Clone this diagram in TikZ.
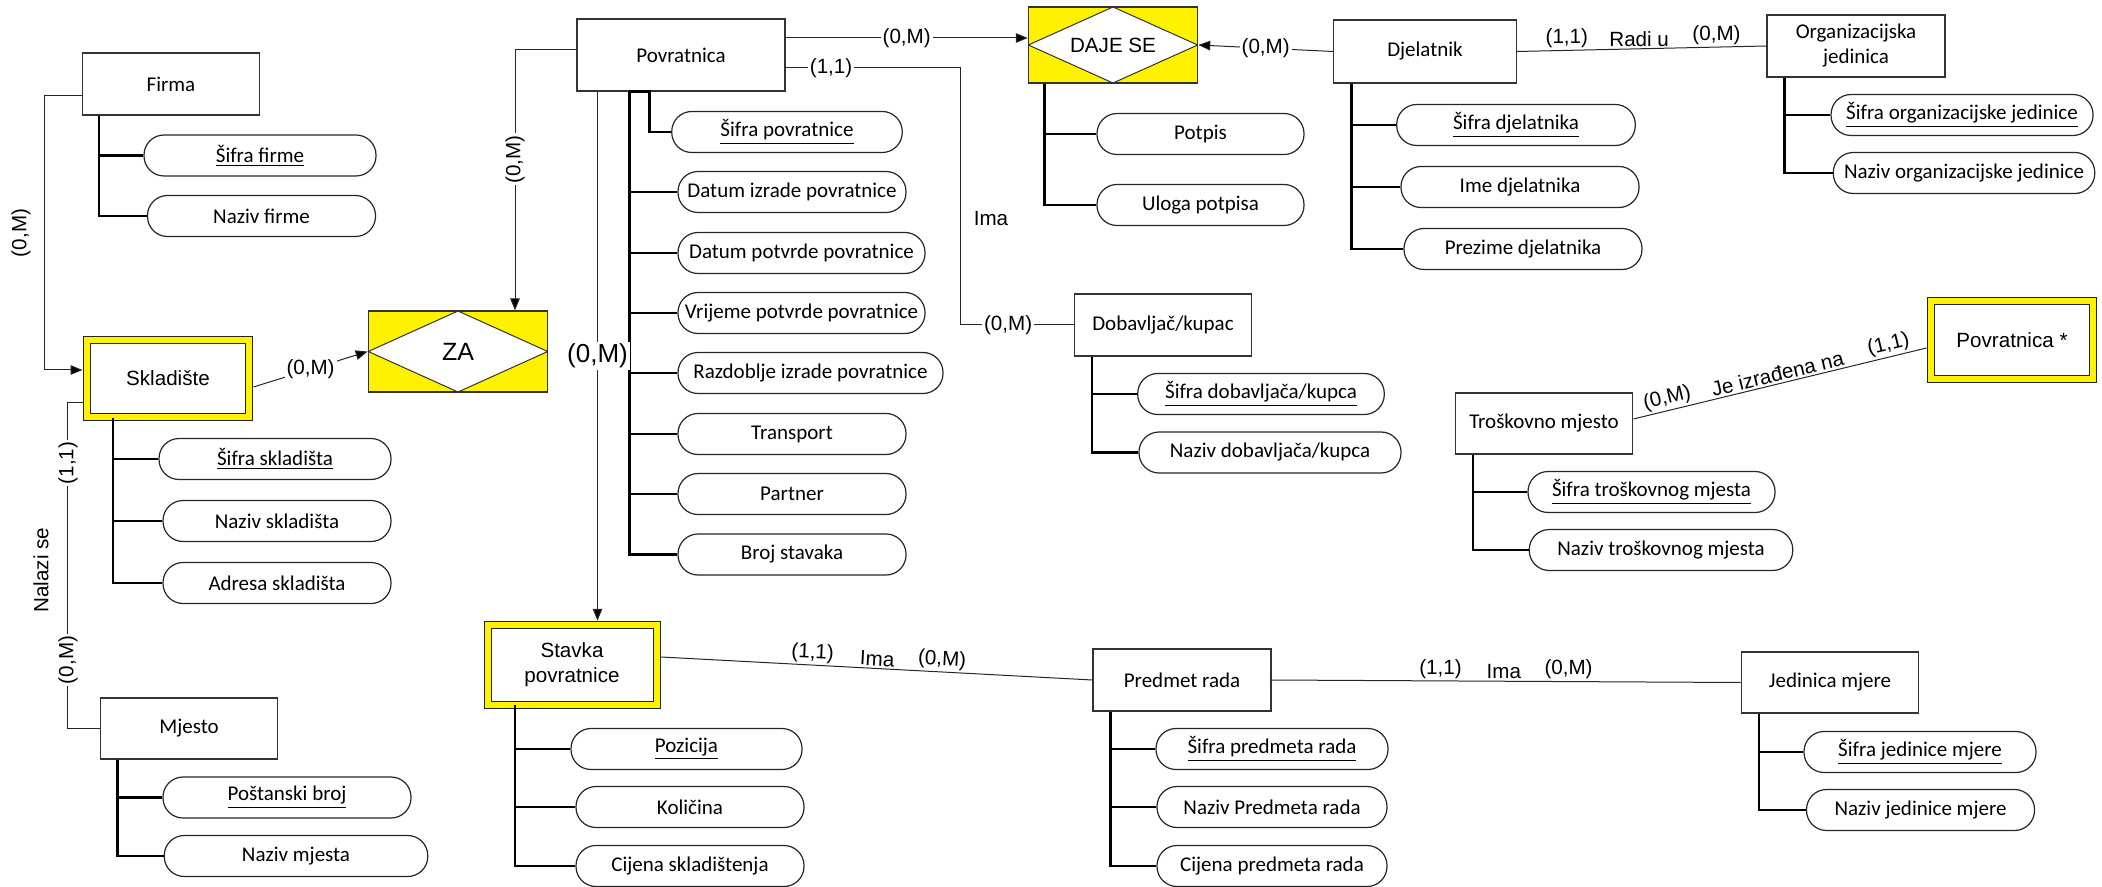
\documentclass[tikz,border=0pt]{standalone}
\usepackage{fontspec}
\setmainfont{Carlito}
\newfontfamily\arialf{Liberation Sans}
\usetikzlibrary{arrows.meta}

\tikzset{
  entity/.style={draw=black!80, line width=0.6pt, fill=white, minimum width=88.75pt,
    minimum height=31pt, inner sep=1pt, align=center, font=\fontsize{10.5}{12.5}\selectfont},
  weak/.style={draw=black!85, line width=0.5pt, double=yellow, double distance=3pt, fill=white,
    minimum width=81pt, minimum height=38.5pt, inner sep=1pt, align=center,
    font=\arialf\fontsize{10.3}{12.5}\selectfont},
  relbox/.style={draw=black!80, line width=0.6pt, fill=yellow, inner sep=0pt,
    font=\arialf\fontsize{10.3}{12}\selectfont,
    path picture={\draw[black!80, line width=0.5pt, fill=white]
      (path picture bounding box.west) -- (path picture bounding box.north) --
      (path picture bounding box.east) -- (path picture bounding box.south) -- cycle;}},
  attr/.style={draw=black!85, line width=0.6pt, fill=white, rounded corners=10pt,
    minimum width=114pt, minimum height=20.5pt, inner sep=1pt, font=\fontsize{10.5}{12.5}\selectfont},
  trunk/.style={line width=1.3pt, black},
  link/.style={line width=0.5pt, black!85},
  tip/.style={-{Triangle[length=6pt, width=4.8pt, fill=black]}},
  card/.style={inner sep=1pt, text=black, font=\arialf\fontsize{10.3}{12}\selectfont},
}

\begin{document}
\begin{tikzpicture}[x=0.5pt, y=-0.5pt]
  \useasboundingbox (0,0) rectangle (2102,887);
  % entities
  \node[entity] (firma) at (171,84) {Firma};
  \node[weak] (skl) at (168,378.5) {Skladište};
  \node[entity, minimum height=30.5pt] (mjesto) at (189,728.5) {Mjesto};
  \node[entity, minimum width=104pt, minimum height=36pt] (pov) at (681,55) {Povratnica};
  \node[weak, minimum width=84.5pt, minimum height=39.75pt] (stavka) at (572,665) {Stavka\\povratnice};
  \node[entity, minimum width=91.3pt, minimum height=31.5pt] (djel) at (1425,51.5) {Djelatnik};
  \node[entity, minimum width=89pt] (org) at (1856,46) {Organizacijska\\jedinica};
  \node[entity] (dob) at (1163,325) {Dobavljač/kupac};
  \node[entity, minimum height=30.5pt] (trosk) at (1544,423.5) {Troškovno mjesto};
  \node[entity, minimum width=89pt] (pred) at (1182,680) {Predmet rada};
  \node[entity, minimum height=30.5pt] (jed) at (1830,682.5) {Jedinica mjere};
  \node[weak, minimum height=38.75pt] (pov2) at (2012,340) {Povratnica *};
  % relationships
  \node[relbox, minimum width=84.65pt, minimum height=38pt] (dajese) at (1113,45) {DAJE SE};
  \node[relbox, minimum width=89.75pt, minimum height=40.5pt, font=\arialf\fontsize{12.5}{14}\selectfont] (za) at (458,351.5) {ZA};

  % attributes
  \node[attr, minimum width=116pt] (fir1) at (260,155.5) {\underline{Šifra firme}};
  \node[attr] (fir2) at (261.5,216) {Naziv firme};
  \node[attr, minimum width=116pt] (skl1) at (275,459) {\underline{Šifra skladišta}};
  \node[attr] (skl2) at (277,521) {Naziv skladišta};
  \node[attr] (skl3) at (277,583) {Adresa skladišta};
  \node[attr, minimum width=124pt] (mj1) at (287,797.5) {\underline{Poštanski broj}};
  \node[attr, minimum width=131.75pt] (mj2) at (296,856) {Naziv mjesta};
  \node[attr, minimum width=115.25pt] (pv1) at (787,132) {\underline{Šifra povratnice}};
  \node[attr] (pv2) at (792,192) {Datum izrade povratnice};
  \node[attr, minimum width=123.5pt] (pv3) at (801.5,253) {Datum potvrde povratnice};
  \node[attr, minimum width=123.5pt] (pv4) at (801.5,313) {Vrijeme potvrde povratnice};
  \node[attr, minimum width=132.5pt] (pv5) at (810.5,373) {Razdoblje izrade povratnice};
  \node[attr] (pv6) at (792,434) {Transport};
  \node[attr] (pv7) at (792,494) {Partner};
  \node[attr] (pv8) at (792,554.5) {Broj stavaka};
  \node[attr, minimum width=115.5pt] (st1) at (686.5,749) {\underline{Pozicija}};
  \node[attr] (st2) at (690,807) {Količina};
  \node[attr] (st3) at (690,866) {Cijena skladištenja};
  \node[attr, minimum width=103.5pt] (ds1) at (1200.5,134) {Potpis};
  \node[attr, minimum width=103.5pt] (ds2) at (1200.5,205) {Uloga potpisa};
  \node[attr, minimum width=119.3pt] (dj1) at (1516,125) {\underline{Šifra djelatnika}};
  \node[attr, minimum width=119pt] (dj2) at (1520,187) {Ime djelatnika};
  \node[attr, minimum width=119pt] (dj3) at (1523,249) {Prezime djelatnika};
  \node[attr, minimum width=131pt] (og1) at (1962,115) {\underline{Šifra organizacijske jedinice}};
  \node[attr, minimum width=130.75pt] (og2) at (1964,173) {Naziv organizacijske jedinice};
  \node[attr, minimum width=123.3pt] (db1) at (1261,394) {\underline{Šifra dobavljača/kupca}};
  \node[attr, minimum width=131pt] (db2) at (1270,452.5) {Naziv dobavljača/kupca};
  \node[attr, minimum width=123.5pt] (tr1) at (1651.5,492) {\underline{Šifra troškovnog mjesta}};
  \node[attr, minimum width=131.75pt] (tr2) at (1661,550) {Naziv troškovnog mjesta};
  \node[attr, minimum width=116pt] (pr1) at (1272,749) {\underline{Šifra predmeta rada}};
  \node[attr, minimum width=115pt] (pr2) at (1272,807) {Naziv Predmeta rada};
  \node[attr, minimum width=115pt] (pr3) at (1272,866) {Cijena predmeta rada};
  \node[attr, minimum width=116pt] (jm1) at (1920,752) {\underline{Šifra jedinice mjere}};
  \node[attr] (jm2) at (1920.5,810) {Naziv jedinice mjere};

  % attribute trunks
  \draw[trunk] ([xshift=8.75pt]firma.south west) |- (fir1.west);
  \draw[trunk] ([xshift=8.75pt]firma.south west) |- (fir2.west);
  \draw[trunk] ([xshift=13.3pt]skl.south west) |- (skl1.west);
  \draw[trunk] ([xshift=13.3pt]skl.south west) |- (skl2.west);
  \draw[trunk] ([xshift=13.3pt]skl.south west) |- (skl3.west);
  \draw[trunk] ([xshift=8.9pt]mjesto.south west) |- (mj1.west);
  \draw[trunk] ([xshift=8.9pt]mjesto.south west) |- (mj2.west);
  \draw[trunk] ([xshift=26.5pt]pov.south west) -- ([xshift=36.5pt]pov.south west) |- (pv1.west);
  \draw[trunk] ([xshift=26.5pt]pov.south west) |- (pv2.west);
  \draw[trunk] ([xshift=26.5pt]pov.south west) |- (pv3.west);
  \draw[trunk] ([xshift=26.5pt]pov.south west) |- (pv4.west);
  \draw[trunk] ([xshift=26.5pt]pov.south west) |- (pv5.west);
  \draw[trunk] ([xshift=26.5pt]pov.south west) |- (pv6.west);
  \draw[trunk] ([xshift=26.5pt]pov.south west) |- (pv7.west);
  \draw[trunk] ([xshift=26.5pt]pov.south west) |- (pv8.west);
  \draw[trunk] ([xshift=14pt]stavka.south west) |- (st1.west);
  \draw[trunk] ([xshift=14pt]stavka.south west) |- (st2.west);
  \draw[trunk] ([xshift=14pt]stavka.south west) |- (st3.west);
  \draw[trunk] ([xshift=8.3pt]dajese.south west) |- (ds1.west);
  \draw[trunk] ([xshift=8.3pt]dajese.south west) |- (ds2.west);
  \draw[trunk] ([xshift=9.15pt]djel.south west) |- (dj1.west);
  \draw[trunk] ([xshift=9.15pt]djel.south west) |- (dj2.west);
  \draw[trunk] ([xshift=9.15pt]djel.south west) |- (dj3.west);
  \draw[trunk] ([xshift=9pt]org.south west) |- (og1.west);
  \draw[trunk] ([xshift=9pt]org.south west) |- (og2.west);
  \draw[trunk] ([xshift=9.15pt]dob.south west) |- (db1.west);
  \draw[trunk] ([xshift=9.15pt]dob.south west) |- (db2.west);
  \draw[trunk] ([xshift=9.2pt]trosk.south west) |- (tr1.west);
  \draw[trunk] ([xshift=9.2pt]trosk.south west) |- (tr2.west);
  \draw[trunk] ([xshift=9pt]pred.south west) |- (pr1.west);
  \draw[trunk] ([xshift=9pt]pred.south west) |- (pr2.west);
  \draw[trunk] ([xshift=9pt]pred.south west) |- (pr3.west);
  \draw[trunk] ([xshift=9.2pt]jed.south west) |- (jm1.west);
  \draw[trunk] ([xshift=9.2pt]jed.south west) |- (jm2.west);

  % Firma -- Skladiste -- ZA
  \draw[link, tip] ([yshift=-6pt]firma.west) -- ++(-37.5,0) |- ([xshift=-2pt, yshift=4.25pt]skl.west);
  \node[card, rotate=90] (cFirSkl) at (21,233) {(0,M)};
  \draw[link, tip] ([xshift=2pt, yshift=-4.25pt]skl.east) -- node[card, fill=white] (cSklZa) {(0,M)} (za.west);
  % Povratnica -- ZA, Stavka
  \draw[link, tip] ([yshift=2.5pt]pov.west) -| node[card, rotate=90, fill=white, pos=0.71] (cPovZa) {(0,M)} ([xshift=28.5pt]za.north);
  \draw[link, tip] ([xshift=-41.75pt]pov.south) -- node[card, fill=white, font=\arialf\fontsize{13}{15}\selectfont] (cPovSt) {(0,M)} ([xshift=-41.75pt, yshift=2pt]pov.south |- stavka.north);
  % Povratnica -- DAJE SE -- Djelatnik
  \draw[link, tip] ([yshift=8.5pt]pov.east) -- node[card, fill=white] (cPovDs) {(0,M)} ([yshift=8.5pt]pov.east -| dajese.west);
  \draw[link, tip] (djel.west) -- node[card, fill=white] (cDjDs) {(0,M)} (dajese.east);
  % Povratnica -- Dobavljac/kupac
  \draw[link] ([yshift=-6.5pt]pov.east) -- node[card, fill=white, pos=0.26] (cPovDob1) {(1,1)} ++(175,0) |- node[card, fill=white, pos=0.71] (cPovDob2) {(0,M)} (dob.west);
  \node[card] (lImaDob) at (991,219) {Ima};
  % Djelatnik -- Organizacijska jedinica
  \draw[link] (djel.east) -- node[card, above, pos=0.2] (cDjOrg1) {(1,1)} node[card, above, pos=0.49] (lRadi) {Radi u} node[card, above, pos=0.8] (cDjOrg2) {(0,M)} (org.west);
  % Skladiste -- Mjesto
  \draw[link] ([xshift=-2pt, yshift=-12pt]skl.west) -- ++(-15,0) |- (mjesto.west);
  \node[card, rotate=90, fill=white] (cSklMj1) at (68,463) {(1,1)};
  \node[card, rotate=90] (lNalazi) at (41,570) {Nalazi se};
  \node[card, rotate=90, fill=white] (cSklMj2) at (68,660) {(0,M)};
  % Stavka -- Predmet rada -- Jedinica mjere
  \draw[link] ([xshift=2pt, yshift=4pt]stavka.east) -- node[card, above, sloped, pos=0.35] (cStPr1) {(1,1)} node[card, above, sloped, pos=0.5] (lImaSt) {Ima} node[card, above, sloped, pos=0.65] (cStPr2) {(0,M)} (pred.west);
  \draw[link] (pred.east) -- node[card, above, pos=0.36] (cPrJm1) {(1,1)} node[card, above, pos=0.495] (lImaPr) {Ima} node[card, above, pos=0.633] (cPrJm2) {(0,M)} (jed.west);
  % Troskovno mjesto -- Povratnica *
  \draw[link] ([yshift=2.25pt]trosk.east) -- node[card, above, sloped, pos=0.125] (cTrPv1) {(0,M)} node[card, above, sloped, pos=0.5] (lIzr) {Je izrađena na} node[card, above, sloped, pos=0.88] (cTrPv2) {(1,1)} ([xshift=-2pt, yshift=-4pt]pov2.west);
\end{tikzpicture}
\end{document}
